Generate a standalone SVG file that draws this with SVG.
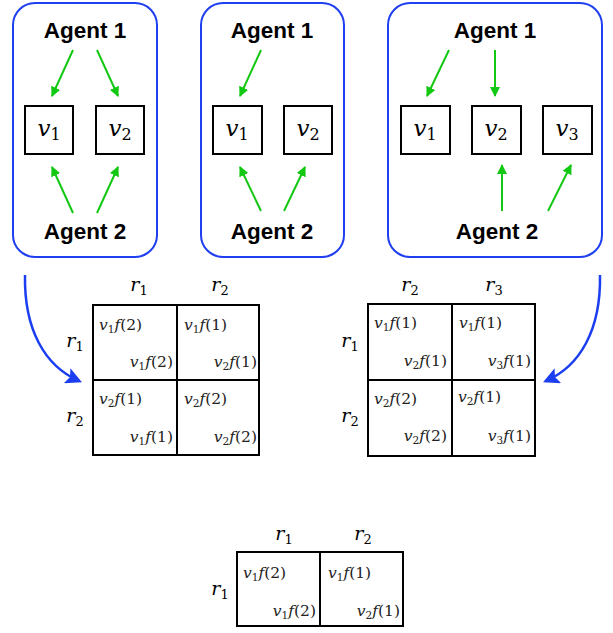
<svg xmlns="http://www.w3.org/2000/svg" width="613" height="633" viewBox="0 0 613 633">
<style>
  .panel{fill:#fff;stroke:#1f3ff0;stroke-width:2}
  .agent{font-family:"Liberation Sans",Arial,sans-serif;font-weight:bold;font-size:22.5px;text-anchor:middle;fill:#000}
  .vbox{fill:#fff;stroke:#000;stroke-width:2}
  .vl{font-family:"DejaVu Serif","Liberation Serif",serif;font-size:23px;text-anchor:middle;fill:#000}
  .vl .n{font-size:16px}
  .g{stroke:#12c812;stroke-width:2;fill:none;marker-end:url(#ga)}
  .b{stroke:#1a3ef0;stroke-width:2.5;fill:none;marker-end:url(#ba)}
  .grid{fill:#fff;stroke:#000;stroke-width:2}
  .ln{stroke:#000;stroke-width:2}
  .lab{font-family:"DejaVu Serif","Liberation Serif",serif;font-size:19px;text-anchor:middle;fill:#000}
  .lab .n{font-size:13px}
  .c{font-family:"DejaVu Serif","Liberation Serif",serif;font-size:15.5px;fill:#222}
  .e{text-anchor:end}
  .i{font-style:italic}
  .s{font-size:10.5px}
</style>
<defs>
  <marker id="ga" viewBox="0 0 10 10" refX="9" refY="5" markerWidth="5" markerHeight="5" orient="auto" markerUnits="strokeWidth">
    <path d="M0,0 L10,5 L0,10 z" fill="#12c812"/>
  </marker>
  <marker id="ba" viewBox="0 0 10 10" refX="8" refY="5" markerWidth="6.5" markerHeight="6.5" orient="auto" markerUnits="strokeWidth">
    <path d="M0,0 L10,5 L0,10 L2,5 z" fill="#1a3ef0"/>
  </marker>
</defs>

<!-- panel 1 -->
<g id="panel1">
  <rect class="panel" x="13" y="3" width="144" height="254" rx="22"/>
  <text class="agent" x="85" y="38">Agent 1</text>
  <text class="agent" x="85" y="239">Agent 2</text>
</g>
<g id="p1v1"><rect class="vbox" x="25" y="106" width="48" height="48"/><text class="vl" x="49" y="136"><tspan class="i">v</tspan><tspan class="n" dy="4">1</tspan></text></g>
<g id="p1v2"><rect class="vbox" x="96" y="106" width="48" height="48"/><text class="vl" x="120" y="136"><tspan class="i">v</tspan><tspan class="n" dy="4">2</tspan></text></g>

<!-- panel 2 -->
<g id="panel2">
  <rect class="panel" x="201" y="3" width="143" height="254" rx="22"/>
  <text class="agent" x="272" y="38">Agent 1</text>
  <text class="agent" x="272" y="239">Agent 2</text>
</g>
<g id="p2v1"><rect class="vbox" x="213" y="106" width="49" height="48"/><text class="vl" x="237" y="136"><tspan class="i">v</tspan><tspan class="n" dy="4">1</tspan></text></g>
<g id="p2v2"><rect class="vbox" x="284" y="106" width="48" height="48"/><text class="vl" x="308" y="136"><tspan class="i">v</tspan><tspan class="n" dy="4">2</tspan></text></g>

<!-- panel 3 -->
<g id="panel3">
  <rect class="panel" x="388" y="3" width="214" height="254" rx="22"/>
  <text class="agent" x="495" y="38">Agent 1</text>
  <text class="agent" x="497" y="239">Agent 2</text>
</g>
<g id="p3v1"><rect class="vbox" x="401" y="106" width="49" height="48"/><text class="vl" x="425" y="136"><tspan class="i">v</tspan><tspan class="n" dy="4">1</tspan></text></g>
<g id="p3v2"><rect class="vbox" x="472" y="106" width="49" height="48"/><text class="vl" x="496" y="136"><tspan class="i">v</tspan><tspan class="n" dy="4">2</tspan></text></g>
<g id="p3v3"><rect class="vbox" x="543" y="106" width="49" height="48"/><text class="vl" x="567" y="136"><tspan class="i">v</tspan><tspan class="n" dy="4">3</tspan></text></g>

<!-- connectors -->
<g id="connectors">
  <line class="g" x1="73" y1="50" x2="52" y2="96"/>
  <line class="g" x1="97" y1="50" x2="118" y2="96"/>
  <line class="g" x1="73" y1="213" x2="52" y2="167"/>
  <line class="g" x1="97" y1="213" x2="118" y2="167"/>
  <line class="g" x1="261" y1="50" x2="240" y2="96"/>
  <line class="g" x1="261" y1="211" x2="240" y2="167"/>
  <line class="g" x1="284" y1="211" x2="305" y2="167"/>
  <line class="g" x1="449" y1="50" x2="427" y2="96"/>
  <line class="g" x1="495" y1="50" x2="495" y2="96"/>
  <line class="g" x1="502" y1="211" x2="502" y2="165"/>
  <line class="g" x1="548" y1="211" x2="571" y2="165"/>
  <path class="b" d="M25,275 C24,330 45,366 79,381"/>
  <path class="b" d="M600,275 C601,330 580,366 546,381"/>
</g>

<!-- table 1 -->
<g id="table1">
  <rect class="grid" x="93" y="305" width="166" height="150"/>
  <line class="ln" x1="177" y1="305" x2="177" y2="455"/>
  <line class="ln" x1="93" y1="380" x2="259" y2="380"/>
  <text class="lab" x="139" y="291"><tspan class="i">r</tspan><tspan class="n" dy="4">1</tspan></text>
  <text class="lab" x="220" y="291"><tspan class="i">r</tspan><tspan class="n" dy="4">2</tspan></text>
  <text class="lab" x="75" y="347"><tspan class="i">r</tspan><tspan class="n" dy="4">1</tspan></text>
  <text class="lab" x="75" y="422"><tspan class="i">r</tspan><tspan class="n" dy="4">2</tspan></text>
  <text class="c" x="99" y="330"><tspan class="i">v</tspan><tspan class="s" dy="3">1</tspan><tspan class="i" dy="-3">f</tspan>(2)</text>
  <text class="c e" x="173" y="367"><tspan class="i">v</tspan><tspan class="s" dy="3">1</tspan><tspan class="i" dy="-3">f</tspan>(2)</text>
  <text class="c" x="184" y="330"><tspan class="i">v</tspan><tspan class="s" dy="3">1</tspan><tspan class="i" dy="-3">f</tspan>(1)</text>
  <text class="c e" x="257" y="367"><tspan class="i">v</tspan><tspan class="s" dy="3">2</tspan><tspan class="i" dy="-3">f</tspan>(1)</text>
  <text class="c" x="99" y="404"><tspan class="i">v</tspan><tspan class="s" dy="3">2</tspan><tspan class="i" dy="-3">f</tspan>(1)</text>
  <text class="c e" x="173" y="442"><tspan class="i">v</tspan><tspan class="s" dy="3">1</tspan><tspan class="i" dy="-3">f</tspan>(1)</text>
  <text class="c" x="184" y="404"><tspan class="i">v</tspan><tspan class="s" dy="3">2</tspan><tspan class="i" dy="-3">f</tspan>(2)</text>
  <text class="c e" x="257" y="442"><tspan class="i">v</tspan><tspan class="s" dy="3">2</tspan><tspan class="i" dy="-3">f</tspan>(2)</text>
</g>

<!-- table 2 -->
<g id="table2">
  <rect class="grid" x="368" y="304" width="167" height="152"/>
  <line class="ln" x1="452" y1="304" x2="452" y2="456"/>
  <line class="ln" x1="368" y1="380" x2="535" y2="380"/>
  <text class="lab" x="410" y="291"><tspan class="i">r</tspan><tspan class="n" dy="4">2</tspan></text>
  <text class="lab" x="494" y="291"><tspan class="i">r</tspan><tspan class="n" dy="4">3</tspan></text>
  <text class="lab" x="350" y="347"><tspan class="i">r</tspan><tspan class="n" dy="4">1</tspan></text>
  <text class="lab" x="350" y="422"><tspan class="i">r</tspan><tspan class="n" dy="4">2</tspan></text>
  <text class="c" x="374" y="328"><tspan class="i">v</tspan><tspan class="s" dy="3">1</tspan><tspan class="i" dy="-3">f</tspan>(1)</text>
  <text class="c e" x="447" y="366"><tspan class="i">v</tspan><tspan class="s" dy="3">2</tspan><tspan class="i" dy="-3">f</tspan>(1)</text>
  <text class="c" x="459" y="328"><tspan class="i">v</tspan><tspan class="s" dy="3">1</tspan><tspan class="i" dy="-3">f</tspan>(1)</text>
  <text class="c e" x="531" y="366"><tspan class="i">v</tspan><tspan class="s" dy="3">3</tspan><tspan class="i" dy="-3">f</tspan>(1)</text>
  <text class="c" x="374" y="404"><tspan class="i">v</tspan><tspan class="s" dy="3">2</tspan><tspan class="i" dy="-3">f</tspan>(2)</text>
  <text class="c e" x="447" y="441"><tspan class="i">v</tspan><tspan class="s" dy="3">2</tspan><tspan class="i" dy="-3">f</tspan>(2)</text>
  <text class="c" x="458" y="402"><tspan class="i">v</tspan><tspan class="s" dy="3">2</tspan><tspan class="i" dy="-3">f</tspan>(1)</text>
  <text class="c e" x="531" y="441"><tspan class="i">v</tspan><tspan class="s" dy="3">3</tspan><tspan class="i" dy="-3">f</tspan>(1)</text>
</g>

<!-- table 3 -->
<g id="table3">
  <rect class="grid" x="237" y="552" width="166" height="74"/>
  <line class="ln" x1="320" y1="552" x2="320" y2="626"/>
  <text class="lab" x="284" y="540"><tspan class="i">r</tspan><tspan class="n" dy="4">1</tspan></text>
  <text class="lab" x="363" y="540"><tspan class="i">r</tspan><tspan class="n" dy="4">2</tspan></text>
  <text class="lab" x="220" y="595"><tspan class="i">r</tspan><tspan class="n" dy="4">1</tspan></text>
  <text class="c" x="243" y="578"><tspan class="i">v</tspan><tspan class="s" dy="3">1</tspan><tspan class="i" dy="-3">f</tspan>(2)</text>
  <text class="c e" x="316" y="616"><tspan class="i">v</tspan><tspan class="s" dy="3">1</tspan><tspan class="i" dy="-3">f</tspan>(2)</text>
  <text class="c" x="328" y="578"><tspan class="i">v</tspan><tspan class="s" dy="3">1</tspan><tspan class="i" dy="-3">f</tspan>(1)</text>
  <text class="c e" x="400" y="616"><tspan class="i">v</tspan><tspan class="s" dy="3">2</tspan><tspan class="i" dy="-3">f</tspan>(1)</text>
</g>
</svg>
